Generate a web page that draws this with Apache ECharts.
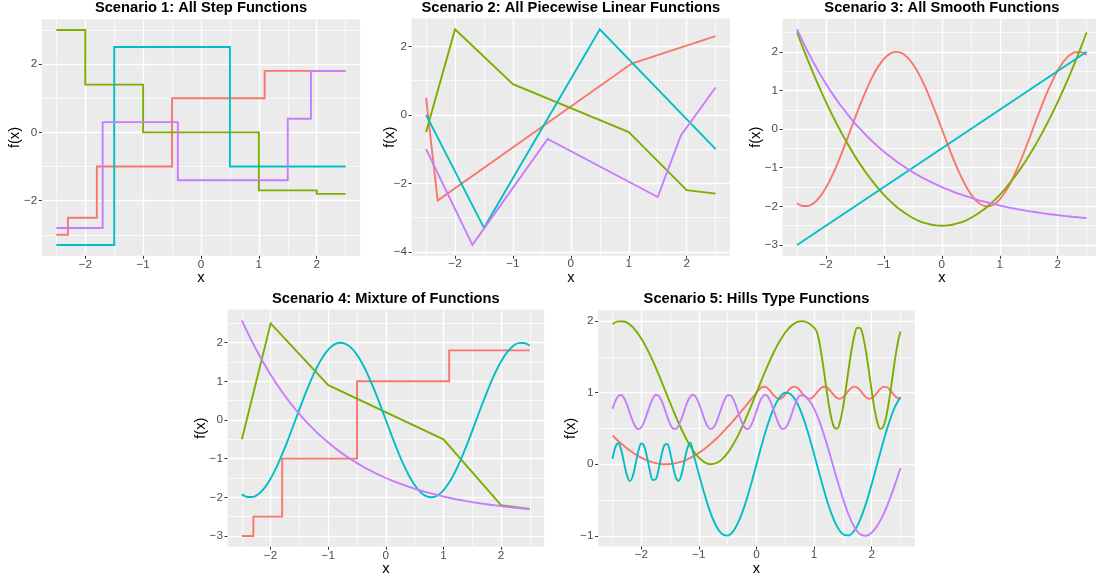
<!DOCTYPE html>
<html>
<head>
<meta charset="utf-8">
<script src="https://cdn.jsdelivr.net/npm/echarts@6/dist/echarts.min.js"></script>
<style>
  html, body { margin: 0; padding: 0; background: #ffffff; }
  #chart { width: 1096px; height: 580px; }
</style>
</head>
<body>
<div id="chart"></div>
<script>
// ---- Data -------------------------------------------------------------

// Shared x grid for the smooth functions of scenarios 3 and 4
const xGrid = [-2.5,-2.4,-2.3,-2.2,-2.1,-2,-1.9,-1.8,-1.7,-1.6,-1.5,-1.4,-1.3,-1.2,-1.1,-1,-0.9,-0.8,-0.7,-0.6,-0.5,-0.4,-0.3,-0.2,-0.1,0,0.1,0.2,0.3,0.4,0.5,0.6,0.7,0.8,0.9,1,1.1,1.2,1.3,1.4,1.5,1.6,1.7,1.8,1.9,2,2.1,2.2,2.3,2.4,2.5];

// Wave (peaks at -0.8 and 2.35, troughs at -2.35 and 0.8)
const waveY = [-1.918,-1.992,-1.987,-1.903,-1.743,-1.514,-1.224,-0.885,-0.511,-0.117,0.282,0.670,1.031,1.351,1.617,1.819,1.948,1.999,1.971,1.864,1.683,1.435,1.129,0.779,0.397,0,-0.397,-0.779,-1.129,-1.435,-1.683,-1.864,-1.971,-1.999,-1.948,-1.819,-1.617,-1.351,-1.031,-0.670,-0.282,0.117,0.511,0.885,1.224,1.514,1.743,1.903,1.987,1.992,1.918];
// Bowl (minimum -2.5 at 0)
const bowlY = [2.5,2.108,1.732,1.372,1.028,0.7,0.388,0.092,-0.188,-0.452,-0.7,-0.932,-1.148,-1.348,-1.532,-1.7,-1.852,-1.988,-2.108,-2.212,-2.3,-2.372,-2.428,-2.468,-2.492,-2.5,-2.492,-2.468,-2.428,-2.372,-2.3,-2.212,-2.108,-1.988,-1.852,-1.7,-1.532,-1.348,-1.148,-0.932,-0.7,-0.452,-0.188,0.092,0.388,0.7,1.028,1.372,1.732,2.108,2.5];
// Decay towards -2.5
const decayY = [2.578,2.259,1.960,1.679,1.416,1.169,0.938,0.722,0.519,0.329,0.151,-0.016,-0.172,-0.319,-0.456,-0.584,-0.705,-0.818,-0.924,-1.023,-1.116,-1.203,-1.285,-1.361,-1.433,-1.5,-1.563,-1.622,-1.677,-1.729,-1.777,-1.823,-1.865,-1.905,-1.943,-1.978,-2.011,-2.042,-2.070,-2.097,-2.123,-2.147,-2.169,-2.190,-2.209,-2.227,-2.245,-2.261,-2.276,-2.290,-2.303];
// Straight line
const lineXY = [[-2.5,-3],[2.5,2]];

// Step functions: each point starts a level that holds until the next x
const stepRed    = [[-2.5,-3],[-2.3,-2.5],[-1.8,-1],[-0.5,1],[1.1,1.8],[2.5,1.8]];
const stepGreen  = [[-2.5,3],[-2,1.4],[-1,0],[1,-1.7],[2,-1.8],[2.5,-1.8]];
const stepCyan   = [[-2.5,-3.3],[-1.5,2.5],[0.5,-1],[2.5,-1]];
const stepPurple = [[-2.5,-2.8],[-1.7,0.3],[-0.4,-1.4],[1.5,0.4],[1.9,1.8],[2.5,1.8]];

// Piecewise linear functions (knots)
const linRed    = [[-2.5,0.5],[-2.3,-2.5],[1.05,1.5],[2.5,2.3]];
const linGreen  = [[-2.5,-0.5],[-2,2.5],[-1,0.9],[1,-0.5],[2,-2.2],[2.5,-2.3]];
const linCyan   = [[-2.5,0],[-1.5,-3.3],[0.5,2.5],[2.5,-1]];
const linPurple = [[-2.5,-1],[-1.7,-3.8],[-0.4,-0.7],[1.5,-2.4],[1.9,-0.6],[2.5,0.8]];

// Hills type functions
const hillsRed = [[-2.5,0.402],[-2.4,0.325],[-2.3,0.254],[-2.2,0.192],[-2.1,0.137],[-2,0.091],[-1.9,0.054],[-1.8,0.026],[-1.7,0.008],[-1.6,0],[-1.5,0.003],[-1.4,0.015],[-1.3,0.036],[-1.2,0.068],[-1.1,0.109],[-1,0.159],[-0.9,0.217],[-0.8,0.283],[-0.7,0.356],[-0.6,0.435],[-0.5,0.521],[-0.4,0.611],[-0.3,0.705],[-0.2,0.801],[-0.1,0.9],[0,1],
  [0.05,1.048],[0.1,1.079],[0.15,1.083],[0.2,1.057],[0.25,1.012],[0.3,0.962],[0.35,0.926],[0.4,0.915],[0.45,0.934],[0.5,0.976],[0.55,1.026],[0.6,1.067],[0.65,1.085],[0.7,1.073],[0.75,1.035],[0.8,0.985],[0.85,0.941],[0.9,0.917],[0.95,0.922],[1,0.954],[1.05,1.003],[1.1,1.05],[1.15,1.08],[1.2,1.082],[1.25,1.055],[1.3,1.009],[1.35,0.96],[1.4,0.925],[1.45,0.916],[1.5,0.936],[1.55,0.979],[1.6,1.029],[1.65,1.069],[1.7,1.085],[1.75,1.071],[1.8,1.032],[1.85,0.982],[1.9,0.938],[1.95,0.916],[2,0.923],[2.05,0.957],[2.1,1.006],[2.15,1.053],[2.2,1.081],[2.25,1.081],[2.3,1.053],[2.35,1.006],[2.4,0.957],[2.45,0.923],[2.5,0.916]];
const hillsGreen = [[-2.5,1.959],[-2.4,1.996],[-2.3,1.994],[-2.2,1.952],[-2.1,1.872],[-2,1.757],[-1.9,1.612],[-1.8,1.443],[-1.7,1.256],[-1.6,1.058],[-1.5,0.859],[-1.4,0.665],[-1.3,0.485],[-1.2,0.325],[-1.1,0.192],[-1,0.091],[-0.9,0.026],[-0.8,0],[-0.7,0.015],[-0.6,0.068],[-0.5,0.159],[-0.4,0.283],[-0.3,0.435],[-0.2,0.611],[-0.1,0.801],[0,1],[0.1,1.199],[0.2,1.389],[0.3,1.565],[0.4,1.717],[0.5,1.841],[0.6,1.932],[0.7,1.985],[0.8,2],[0.9,1.974],[1,1.909],
  [1.05,1.845],[1.1,1.669],[1.15,1.418],[1.2,1.134],[1.25,0.861],[1.3,0.643],[1.35,0.514],[1.4,0.497],[1.45,0.592],[1.5,0.785],[1.55,1.046],[1.6,1.332],[1.65,1.597],[1.7,1.8],[1.75,1.908],[1.8,1.903],[1.85,1.787],[1.9,1.578],[1.95,1.309],[2,1.024],[2.05,0.767],[2.1,0.581],[2.15,0.494],[2.2,0.521],[2.25,0.658],[2.3,0.881],[2.35,1.157],[2.4,1.44],[2.45,1.686],[2.5,1.855]];
const hillsCyan = [[-2.5,0.075],[-2.45,0.24],[-2.4,0.293],[-2.35,0.204],[-2.3,0.022],[-2.25,-0.155],[-2.2,-0.234],[-2.15,-0.171],[-2.1,0],[-2.05,0.187],[-2,0.29],[-1.95,0.253],[-1.9,0.097],[-1.85,-0.096],[-1.8,-0.22],[-1.75,-0.211],[-1.7,-0.072],[-1.65,0.122],[-1.6,0.266],[-1.55,0.283],[-1.5,0.165],[-1.45,-0.026],[-1.4,-0.187],[-1.35,-0.231],[-1.3,-0.136],[-1.25,0.049],[-1.2,0.223],[-1.15,0.3],
  [-1.1,0.158],[-1,-0.141],[-0.9,-0.427],[-0.8,-0.676],[-0.7,-0.863],[-0.6,-0.974],[-0.5,-0.998],[-0.4,-0.932],[-0.3,-0.783],[-0.2,-0.565],[-0.1,-0.296],[0,0],[0.1,0.296],[0.2,0.565],[0.3,0.783],[0.4,0.932],[0.5,0.998],[0.6,0.974],[0.7,0.863],[0.8,0.676],[0.9,0.427],[1,0.141],[1.1,-0.158],[1.2,-0.443],[1.3,-0.688],[1.4,-0.872],[1.5,-0.978],[1.6,-0.996],[1.7,-0.926],[1.8,-0.773],[1.9,-0.551],[2,-0.279],[2.1,0.017],[2.2,0.312],[2.3,0.578],[2.4,0.794],[2.5,0.938]];
const hillsPurple = [[-2.5,0.775],[-2.45,0.882],[-2.4,0.953],[-2.35,0.968],[-2.3,0.926],[-2.25,0.836],[-2.2,0.719],[-2.15,0.605],[-2.1,0.522],[-2.05,0.49],[-2,0.517],[-1.95,0.594],[-1.9,0.707],[-1.85,0.824],[-1.8,0.919],[-1.75,0.967],[-1.7,0.957],[-1.65,0.891],[-1.6,0.787],[-1.55,0.668],[-1.5,0.564],[-1.45,0.501],[-1.4,0.494],[-1.35,0.545],[-1.3,0.641],[-1.25,0.759],[-1.2,0.87],[-1.15,0.946],[-1.1,0.97],[-1.05,0.935],[-1,0.849],[-0.95,0.735],[-0.9,0.62],[-0.85,0.531],[-0.8,0.491],[-0.75,0.51],[-0.7,0.582],[-0.65,0.691],[-0.6,0.809],[-0.55,0.908],[-0.5,0.963],[-0.45,0.962],[-0.4,0.903],[-0.35,0.802],[-0.3,0.683],[-0.25,0.576],[-0.2,0.507],[-0.15,0.492],[-0.1,0.535],[-0.05,0.626],[0,0.743],[0.05,0.856],[0.1,0.939],[0.15,0.97],[0.2,0.943],[0.25,0.863],[0.3,0.751],[0.35,0.634],[0.4,0.54],[0.45,0.493],[0.5,0.504],[0.55,0.57],[0.6,0.675],[0.65,0.794],[0.7,0.897],[0.75,0.959],[0.8,0.965],
  [0.9,0.908],[1,0.777],[1.1,0.581],[1.2,0.337],[1.3,0.064],[1.4,-0.216],[1.5,-0.48],[1.6,-0.706],[1.7,-0.879],[1.8,-0.979],[1.9,-0.999],[2,-0.957],[2.1,-0.858],[2.2,-0.708],[2.3,-0.516],[2.4,-0.292],[2.5,-0.052]];

// Tick values
const xMajor = [-2, -1, 0, 1, 2];
const xMinor = [-2.5, -1.5, -0.5, 0.5, 1.5, 2.5];

const titles = [
  'Scenario 1: All Step Functions',
  'Scenario 2: All Piecewise Linear Functions',
  'Scenario 3: All Smooth Functions',
  'Scenario 4: Mixture of Functions',
  'Scenario 5: Hills Type Functions'
];

// ---- Helpers ---------------------------------------------------------
const onGrid = ys => xGrid.map((x, i) => [x, ys[i]]);
const fmt = v => (v < 0 ? '\u2212' + Math.abs(v) : String(v));

const COLORS = ['#F8766D', '#7CAE00', '#00BFC4', '#C77CFF'];
const FONT = '"Liberation Sans", Arial, Helvetica, sans-serif';

// Panel layout (pixels) and per-panel axis setup
const panels = [
  { box: [41.9, 19.2, 318.2, 236.6], y: [-3.615, 3.315], yMajor: [-2, 0, 2], yMinor: [-3, -1, 1, 3], yGap: 19,
    lines: [[stepRed, 'step'], [stepGreen, 'step'], [stepCyan, 'step'], [stepPurple, 'step']] },
  { box: [411.6, 18.6, 318.5, 237.1], y: [-4.115, 2.815], yMajor: [-4, -2, 0, 2], yMinor: [-3, -1, 1], yGap: 14.6,
    lines: [[linRed, 'lin'], [linGreen, 'lin'], [linCyan, 'lin'], [linPurple, 'lin']] },
  { box: [782.6, 18.7, 318.5, 237.1], y: [-3.279, 2.857], yMajor: [-3, -2, -1, 0, 1, 2], yMinor: [-2.5, -1.5, -0.5, 0.5, 1.5, 2.5], yGap: 19.6,
    lines: [[onGrid(waveY), 'smooth'], [onGrid(bowlY), 'smooth'], [lineXY, 'lin'], [onGrid(decayY), 'smooth']] },
  { box: [227.5, 309.5, 316.7, 237.3], y: [-3.279, 2.857], yMajor: [-3, -2, -1, 0, 1, 2], yMinor: [-2.5, -1.5, -0.5, 0.5, 1.5, 2.5], yGap: 19.5,
    lines: [[stepRed, 'step'], [linGreen, 'lin'], [onGrid(waveY), 'smooth'], [onGrid(decayY), 'smooth']] },
  { box: [598.1, 310.4, 316.8, 236.1], y: [-1.15, 2.15], yMajor: [-1, 0, 1, 2], yMinor: [-0.5, 0.5, 1.5], yGap: 20,
    lines: [[hillsRed, 'smooth'], [hillsGreen, 'smooth'], [hillsCyan, 'smooth'], [hillsPurple, 'smooth']] }
];

// ---- Option ----------------------------------------------------------
const grid = [], xAxis = [], yAxis = [], series = [], title = [];

const tickStyle = values => ({ show: true, length: 3, lineStyle: { color: '#333333', width: 1 }, customValues: values });
const labelStyle = (values, margin) => ({ color: '#4D4D4D', fontSize: 11.7, fontFamily: FONT, formatter: fmt,
                                          margin, customValues: values });

const majorAxis = (gridIndex, extra) => Object.assign({
  type: 'value', gridIndex,
  axisLine: { show: false, onZero: false },
  splitLine: { show: true, lineStyle: { color: '#FFFFFF', width: 1.4 } },
  nameLocation: 'middle',
  nameMoveOverlap: false,
  nameTextStyle: { color: '#000000', fontSize: 14.7, fontFamily: FONT }
}, extra);

const minorAxis = (gridIndex, extra) => Object.assign({
  type: 'value', gridIndex,
  axisLine: { show: false, onZero: false },
  axisLabel: { show: false },
  splitLine: { show: true, lineStyle: { color: '#FFFFFF', width: 0.7 } }
}, extra);

panels.forEach((p, i) => {
  const [l, t, w, h] = p.box;
  grid.push({ left: l, top: t, width: w, height: h, show: true, backgroundColor: '#EBEBEB',
              borderWidth: 0, containLabel: false, outerBoundsMode: 'none' });
  title.push({ text: titles[i], left: l + w / 2, top: i < 3 ? 0 : 291.5, textAlign: 'center', padding: 0,
               textStyle: { fontSize: 14.7, fontWeight: 'bold', color: '#000000', fontFamily: FONT } });

  xAxis.push(majorAxis(i, { position: 'bottom', min: -2.75, max: 2.75, name: 'x', nameGap: 15,
    axisTick: tickStyle(xMajor), axisLabel: labelStyle(xMajor, 2.5) }));
  xAxis.push(minorAxis(i, { position: 'top', min: -2.75, max: 2.75,
    axisTick: { show: false, customValues: xMinor } }));

  yAxis.push(majorAxis(i, { position: 'left', min: p.y[0], max: p.y[1], name: 'f(x)', nameGap: p.yGap,
    axisTick: tickStyle(p.yMajor), axisLabel: labelStyle(p.yMajor, 4.6) }));
  yAxis.push(minorAxis(i, { position: 'right', min: p.y[0], max: p.y[1],
    axisTick: { show: false, customValues: p.yMinor } }));

  p.lines.forEach(([data, kind], k) => {
    series.push({
      type: 'line', xAxisIndex: 2 * i, yAxisIndex: 2 * i, data,
      showSymbol: false, symbol: 'none', silent: true,
      step: kind === 'step' ? 'end' : false,
      smooth: kind === 'smooth' ? 0.35 : false,
      lineStyle: { color: COLORS[k], width: 1.9, cap: 'butt', join: 'miter' },
      z: 2 + k
    });
  });
});

const chart = echarts.init(document.getElementById('chart'), null, { renderer: 'canvas' });
chart.setOption({ animation: false, backgroundColor: '#FFFFFF', textStyle: { fontFamily: FONT },
                  title, grid, xAxis, yAxis, series });
</script>
</body>
</html>
